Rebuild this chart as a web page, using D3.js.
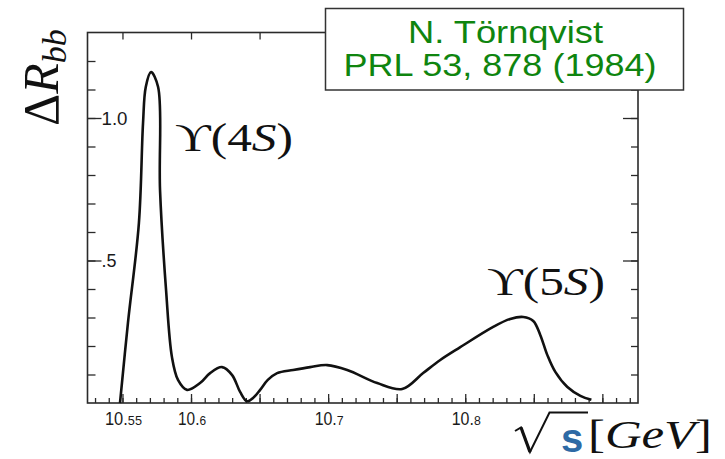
<!DOCTYPE html>
<html>
<head>
<meta charset="UTF-8">
<style>
  html, body { margin: 0; padding: 0; background: #fff; }
  svg { display: block; }
</style>
<script src="https://d3js.org/d3.v7.min.js"></script>
</head>
<body>
<div id="viz"></div>
<script>
// line shape: sqrt(s) in GeV vs Delta R_bb
const energy = [10.5482, 10.554, 10.562, 10.565, 10.567, 10.5708, 10.576, 10.5774, 10.5818, 10.5861,
  10.5905, 10.5971, 10.6066, 10.6139, 10.6226, 10.630, 10.6358, 10.6409, 10.646, 10.6504,
  10.656, 10.6628, 10.6745, 10.6869, 10.6993, 10.7139, 10.7358, 10.754, 10.7693, 10.7818,
  10.7964, 10.8204, 10.8328, 10.8423, 10.8496, 10.8547, 10.8599, 10.8657, 10.8745, 10.884, 10.892];
const deltaR = [0, 0.281, 0.632, 0.982, 1.109, 1.161, 1.109, 0.747, 0.396, 0.161,
  0.081, 0.046, 0.070, 0.105, 0.126, 0.098, 0.039, 0.006, 0.021, 0.046,
  0.081, 0.105, 0.116, 0.126, 0.133, 0.116, 0.070, 0.049, 0.105, 0.151,
  0.196, 0.267, 0.295, 0.302, 0.288, 0.239, 0.168, 0.109, 0.056, 0.025, 0.011];

const xMinorTicks = [10.53, 10.54, 10.55, 10.56, 10.57, 10.58, 10.59, 10.60, 10.61, 10.62, 10.63, 10.64,
  10.65, 10.66, 10.67, 10.68, 10.69, 10.70, 10.71, 10.72, 10.73, 10.74, 10.75, 10.76, 10.77, 10.78,
  10.79, 10.80, 10.81, 10.82, 10.83, 10.84, 10.85, 10.86, 10.87, 10.88, 10.89, 10.90, 10.91, 10.92];
const xMajorTicks = [10.55, 10.60, 10.65, 10.70, 10.75, 10.80, 10.85, 10.90];
const xTickLabels = [["10.", "55", 10.55, 37], ["10.", "6", 10.6, 28], ["10.", "7", 10.7, 29], ["10.", "8", 10.8, 29]];
const yMinorTicks = [0.1, 0.2, 0.3, 0.4, 0.5, 0.6, 0.7, 0.8, 0.9, 1.0, 1.1, 1.2];
const yMajorTicks = [0.5, 1.0];
const yTickLabels = [[".5", 0.5, 15], ["1.0", 1.0, 26]];

const width = 725, height = 459;

const svg = d3.select("#viz").append("svg")
    .attr("width", width)
    .attr("height", height);

const x = d3.scaleLinear().domain([10.5245, 10.926]).range([87.5, 638]);
const y = d3.scaleLinear().domain([0, 1.3]).range([403, 32.5]);

const tickColor = "#2a2a2a";

function styleAxis(g) {
  g.select(".domain").remove();
  g.selectAll(".tick line").attr("stroke", tickColor).attr("stroke-width", 1.3);
}

// ticks, all pointing inward
svg.append("g").attr("transform", `translate(0,${y(0)})`)
    .call(d3.axisBottom(x).tickValues(xMinorTicks).tickSize(-5).tickFormat(""))
    .call(styleAxis);
svg.append("g").attr("transform", `translate(0,${y(0)})`)
    .call(d3.axisBottom(x).tickValues(xMajorTicks).tickSize(-9).tickFormat(""))
    .call(styleAxis);
svg.append("g").attr("transform", `translate(0,${y(1.3)})`)
    .call(d3.axisTop(x).tickValues(xMajorTicks).tickSize(-7).tickFormat(""))
    .call(styleAxis);
svg.append("g").attr("transform", `translate(${x.range()[0]},0)`)
    .call(d3.axisLeft(y).tickValues(yMinorTicks).tickSize(-8).tickFormat(""))
    .call(styleAxis);
svg.append("g").attr("transform", `translate(${x.range()[0]},0)`)
    .call(d3.axisLeft(y).tickValues(yMajorTicks).tickSize(-14).tickFormat(""))
    .call(styleAxis);
svg.append("g").attr("transform", `translate(${x.range()[1]},0)`)
    .call(d3.axisRight(y).tickValues(yMinorTicks).tickSize(-7).tickFormat(""))
    .call(styleAxis);
svg.append("g").attr("transform", `translate(${x.range()[1]},0)`)
    .call(d3.axisRight(y).tickValues(yMajorTicks).tickSize(-15).tickFormat(""))
    .call(styleAxis);

// frame
svg.append("rect")
    .attr("x", x.range()[0]).attr("y", y(1.3))
    .attr("width", x.range()[1] - x.range()[0])
    .attr("height", y(0) - y(1.3))
    .attr("fill", "none")
    .attr("stroke", tickColor)
    .attr("stroke-width", 1.6);

// x tick labels, old style with small decimals
const xl = svg.append("g")
    .attr("font-family", "'Liberation Sans', Arial, sans-serif")
    .attr("fill", "#1a1a1a")
    .attr("text-anchor", "middle");
xl.selectAll("text").data(xTickLabels).join("text")
    .attr("x", d => x(d[2]) + 1)
    .attr("y", 424.5)
    .attr("textLength", d => d[3])
    .attr("lengthAdjust", "spacingAndGlyphs")
    .each(function(d) {
      const t = d3.select(this);
      t.append("tspan").attr("font-size", 17.5).text(d[0]);
      t.append("tspan").attr("font-size", 13.5).text(d[1]);
    });

// y tick labels sit inside the frame
svg.append("g")
    .attr("font-family", "'Liberation Sans', Arial, sans-serif")
    .attr("font-size", 18)
    .attr("fill", "#1a1a1a")
  .selectAll("text").data(yTickLabels).join("text")
    .attr("x", x.range()[0] + 14)
    .attr("y", d => y(d[1]) + 6.5)
    .attr("textLength", d => d[2])
    .attr("lengthAdjust", "spacingAndGlyphs")
    .text(d => d[0]);

// the curve
const line = d3.line()
    .x((d, i) => x(energy[i]))
    .y(d => y(d))
    .curve(d3.curveCatmullRom.alpha(0.5));

svg.append("path")
    .datum(deltaR)
    .attr("d", line)
    .attr("fill", "none")
    .attr("stroke", "#111")
    .attr("stroke-width", 2.6)
    .attr("stroke-linejoin", "round");

// resonance labels
function upsilon(label, xPos, yPos, len) {
  const t = svg.append("text")
      .attr("x", xPos).attr("y", yPos)
      .attr("font-family", "'Liberation Serif', 'Times New Roman', serif")
      .attr("font-size", 39)
      .attr("fill", "#111")
      .attr("textLength", len)
      .attr("lengthAdjust", "spacingAndGlyphs");
  t.append("tspan").text("\u03D2(" + label);
  t.append("tspan").attr("font-style", "italic").text("S");
  t.append("tspan").text(")");
}
upsilon("4", 175, 151, 118);
upsilon("5", 487, 295, 118);

// y axis title
const yt = svg.append("text")
    .attr("transform", "translate(58,126) rotate(-90)")
    .attr("font-family", "'Liberation Serif', 'Times New Roman', serif")
    .attr("font-size", 50)
    .attr("fill", "#111");
yt.append("tspan").text("\u0394");
yt.append("tspan").attr("font-style", "italic").text("R");
yt.append("tspan").attr("font-style", "italic").attr("font-size", 34).attr("dy", 8).text("bb");

// x axis title: radical sign drawn as a stroke, then the symbols
svg.append("path")
    .attr("d", "M515,431 L521,427.5 L530,452 L549.5,412.5 L588,412.5")
    .attr("fill", "none")
    .attr("stroke", "#111")
    .attr("stroke-width", 2)
    .attr("stroke-linejoin", "miter");
svg.append("path")
    .attr("d", "M521,427.5 L530,452")
    .attr("stroke", "#111")
    .attr("stroke-width", 3.2);
svg.append("text")
    .attr("x", 561).attr("y", 452)
    .attr("font-family", "'Liberation Sans', Arial, sans-serif")
    .attr("font-weight", "bold")
    .attr("font-size", 40)
    .attr("fill", "#2e6aa5")
    .text("s");
const gev = svg.append("text")
    .attr("x", 588).attr("y", 448)
    .attr("font-family", "'Liberation Serif', 'Times New Roman', serif")
    .attr("font-size", 41)
    .attr("fill", "#111")
    .attr("textLength", 124)
    .attr("lengthAdjust", "spacingAndGlyphs");
gev.append("tspan").text("[");
gev.append("tspan").attr("font-style", "italic").text("GeV");
gev.append("tspan").text("]");

// citation box
svg.append("rect")
    .attr("x", 325.5).attr("y", 8.5)
    .attr("width", 358).attr("height", 81.5)
    .attr("fill", "#fff")
    .attr("stroke", "#333")
    .attr("stroke-width", 1.5);
const cite = svg.append("g")
    .attr("font-family", "'Liberation Sans', Arial, sans-serif")
    .attr("font-size", 31)
    .attr("fill", "#0f850f")
    .attr("text-anchor", "middle");
cite.append("text").attr("x", 505.5).attr("y", 43)
    .attr("textLength", 195).attr("lengthAdjust", "spacingAndGlyphs")
    .text("N. Törnqvist");
cite.append("text").attr("x", 500).attr("y", 75.5)
    .attr("textLength", 313).attr("lengthAdjust", "spacingAndGlyphs")
    .text("PRL 53, 878 (1984)");
</script>
</body>
</html>
